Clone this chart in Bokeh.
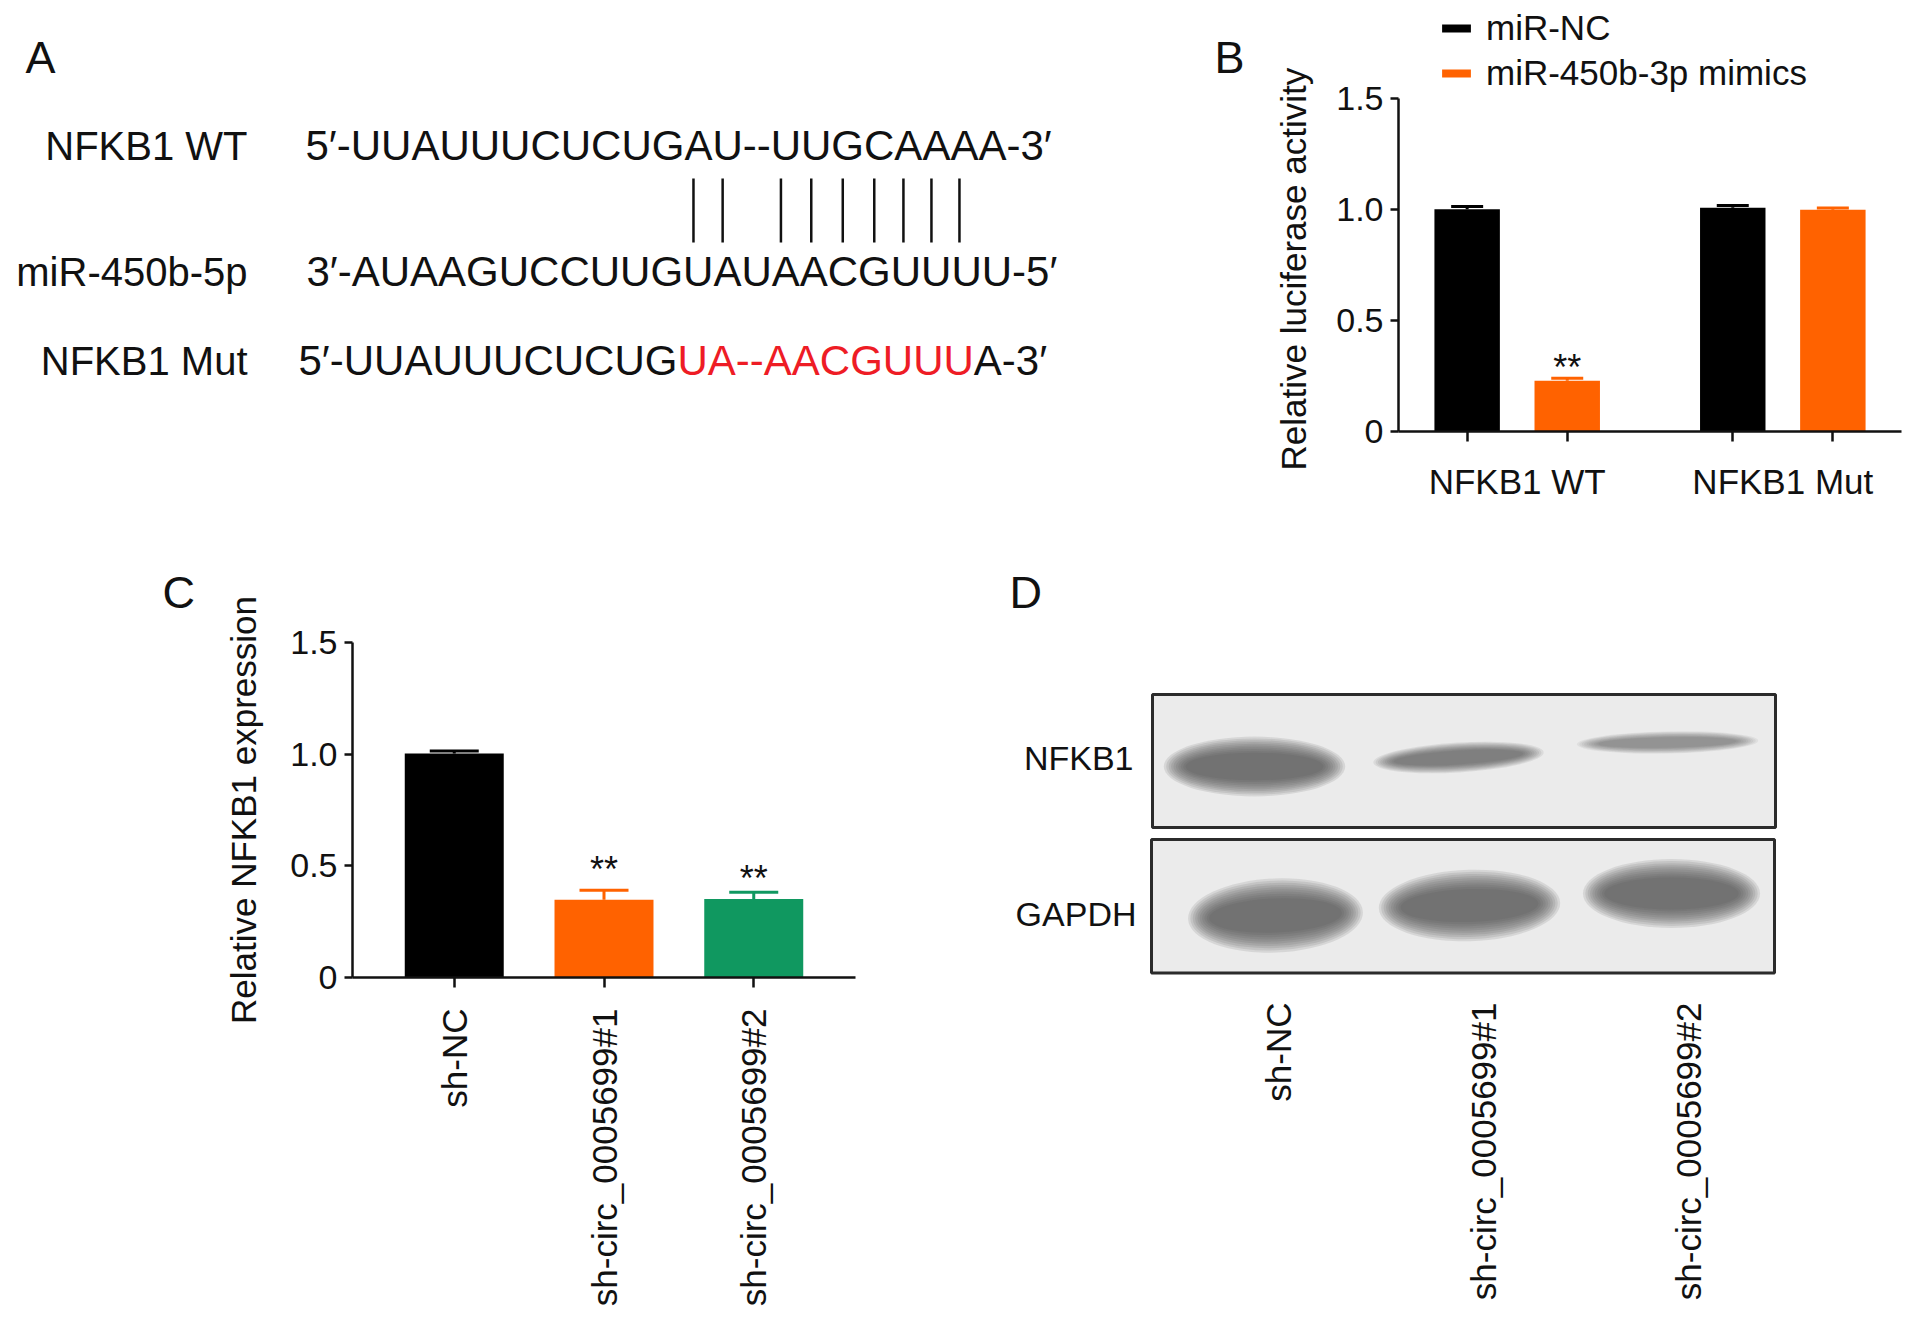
import math
from bokeh.plotting import figure
from bokeh.models import (Range1d, FactorRange, Legend, LegendItem, LinearAxis,
                          FixedTicker, ColumnDataSource)
from bokeh.layouts import column, row
from bokeh.embed import file_html
from bokeh.resources import INLINE
from bokeh.core.properties import value

FONT = "Liberation Sans"
INK = "#111111"

# ---------------- data ----------------
# Panel A : sequence alignment
a_row_labels = ["NFKB1 WT", "miR-450b-5p", "NFKB1 Mut"]
a_wt_seq = "5′-UUAUUUCUCUGAU--UUGCAAAA-3′"
a_mir_seq = "3′-AUAAGUCCUUGUAUAACGUUUU-5′"
a_mut_seq_parts = ["5′-UUAUUUCUCUG", "UA--AACGUUU", "A-3′"]
a_mut_part_colors = [INK, "#EE1C25", INK]
a_pair_index = [14, 15, 18, 19, 20, 21, 22, 23, 24]   # paired bases in a_wt_seq

# Panel B : luciferase assay
b_groups = ["NFKB1 WT", "NFKB1 Mut"]
b_series = ["miR-NC", "miR-450b-3p mimics"]
b_colors = ["#000000", "#FF6200"]
b_values = [[1.000, 1.007], [0.228, 0.998]]
b_errors = [[0.012, 0.010], [0.012, 0.008]]
b_sig_text = ["**"]
b_sig_at = [("NFKB1 WT", "miR-450b-3p mimics")]
b_sig_y = [0.318]
b_ylabel = "Relative luciferase activity"
y_ticks = [0, 0.5, 1.0, 1.5]
y_tick_labels = ["0", "0.5", "1.0", "1.5"]

# Panel C : NFKB1 expression
c_cats = ["sh-NC", "sh-circ_0005699#1", "sh-circ_0005699#2"]
c_values = [1.003, 0.348, 0.351]
c_errors = [0.011, 0.043, 0.031]
c_colors = ["#000000", "#FF6200", "#109860"]
c_sig_text = ["**", "**"]
c_sig_at = ["sh-circ_0005699#1", "sh-circ_0005699#2"]
c_sig_y = [0.514, 0.474]
c_ylabel = "Relative NFKB1 expression"

# Panel D : western blot
d_rows = ["NFKB1", "GAPDH"]
d_lanes = ["sh-NC", "sh-circ_0005699#1", "sh-circ_0005699#2"]
d_nfkb1_intensity = [1.0, 0.75, 0.55]
d_gapdh_intensity = [1.0, 1.0, 1.0]

# ---------------- helpers ----------------
ARIAL_W = {'5': 556, '3': 556, '′': 191, '-': 333, 'U': 722, 'A': 667, 'C': 722, 'G': 778}


def tw(s, fs):
    return sum(ARIAL_W[c] for c in s) * fs / 1000.0


def blank(width, height, x0, y0, top=0, bottom=0, title=None):
    # frame spans the canvas width; vertical borders match the neighbouring chart
    p = figure(width=width, height=height, title=title,
               x_range=Range1d(x0, x0 + width),
               y_range=Range1d(y0 + height - bottom, y0 + top),
               output_backend="svg", toolbar_location=None,
               min_border_left=0, min_border_right=0,
               min_border_top=top, min_border_bottom=bottom,
               x_axis_location=None, y_axis_location=None)
    p.grid.visible = False
    p.outline_line_color = None
    return p


def style_axis(ax, fs):
    ax.axis_line_width = 2.5
    ax.axis_line_color = INK
    ax.major_tick_line_width = 2.5
    ax.major_tick_line_color = INK
    ax.major_tick_in = 0
    ax.minor_tick_line_color = None
    ax.major_label_text_font = FONT
    ax.major_label_text_font_size = fs
    ax.major_label_text_color = INK
    ax.axis_label_text_font = FONT
    ax.axis_label_text_font_style = "normal"
    ax.axis_label_text_color = INK


def style_title(t, fs, align, offset, standoff):
    t.text_font = FONT
    t.text_font_size = fs
    t.text_font_style = "normal"
    t.text_color = INK
    t.align = align
    t.offset = offset
    t.standoff = standoff


ROW1_H, ROW2_H = 540, 769
A_W = 1250

# ---------------- Panel B (defines row-1 frame) ----------------
B_BOTTOM = 109
b_frame_h = ROW1_H - B_BOTTOM
b_px_per_unit = (430.7 - 97.3) / 1.5
b_factors = [(g, s) for g in b_groups for s in b_series]
figB = figure(width=1905 - A_W, height=ROW1_H, title=b_ylabel, title_location="left",
              x_range=FactorRange(*b_factors, group_padding=0.654, range_padding=0.186,
                                  range_padding_units="absolute"),
              y_range=Range1d(0, b_frame_h / b_px_per_unit),
              output_backend="svg", toolbar_location=None,
              min_border_left=1397 - A_W, min_border_right=4, min_border_top=0,
              min_border_bottom=B_BOTTOM)
figB.grid.visible = False
figB.outline_line_color = None
style_title(figB.title, "35px", "left", -39, 42)
legend_items = []
for si, s in enumerate(b_series):
    xs = [(g, s) for g in b_groups]
    tops = [v + e for v, e in zip(b_values[si], b_errors[si])]
    r = figB.vbar(x=xs, top=b_values[si], width=0.654, fill_color=b_colors[si],
                  line_color=None)
    figB.segment(x0=xs, y0=b_values[si], x1=xs, y1=tops, line_color=b_colors[si],
                 line_width=3)
    figB.dash(x=xs, y=tops, size=32, line_color=b_colors[si], line_width=3)
    legend_items.append(LegendItem(label=s, renderers=[r]))
figB.text(x=b_sig_at, y=b_sig_y, text=b_sig_text, text_font=value(FONT),
          text_font_size="36px", text_align="center", text_baseline="alphabetic",
          y_offset=7, text_color=INK)
legend = Legend(items=legend_items, location=(40, b_frame_h - 94), glyph_width=36,
                glyph_height=10, label_height=42, label_text_font=FONT,
                label_text_font_size="35px", label_text_color=INK,
                label_standoff=12, spacing=3, padding=0, margin=0,
                border_line_alpha=0, background_fill_alpha=0)
figB.add_layout(legend)
yB = figB.yaxis[0]
style_axis(yB, "34px")
yB.bounds = (0, 1.5)
yB.ticker = FixedTicker(ticks=y_ticks)
yB.major_label_overrides = dict(zip(y_ticks, y_tick_labels))
yB.major_tick_out = 8
yB.major_label_standoff = 7
xB = figB.xaxis[0]
style_axis(xB, "1px")
xB.major_label_text_alpha = 0
xB.major_tick_out = 10
xB.major_label_standoff = 20
xB.separator_line_alpha = 0
xB.group_text_font = FONT
xB.group_text_font_size = "35px"
xB.group_text_color = INK
xB.group_text_font_style = "normal"

# ---------------- Panel A ----------------
figA = blank(A_W, ROW1_H, 0, 0, top=0, bottom=B_BOTTOM)
figA.text(x=[25, 1214], y=[57, 57], text=["A", "B"], text_font=value(FONT),
          text_font_size="45px", text_baseline="alphabetic", text_align="left",
          text_color=INK)
row_base = [145, 271, 360]
figA.text(x=[247] * 3, y=row_base, text=a_row_labels, text_font=value(FONT),
          text_font_size="40px", text_baseline="alphabetic", text_align="right",
          text_color=INK)
SEQ_FS = 42
figA.text(x=[305, 306], y=row_base[:2], text=[a_wt_seq, a_mir_seq], text_font=value(FONT),
          text_font_size=f"{SEQ_FS}px", text_baseline="alphabetic", text_align="left",
          text_color=INK)
mut_x, cur = [], 298
for part in a_mut_seq_parts:
    mut_x.append(cur)
    cur += tw(part, SEQ_FS)
figA.text(x=mut_x, y=[row_base[2]] * 3, text=a_mut_seq_parts, text_font=value(FONT),
          text_font_size=f"{SEQ_FS}px", text_baseline="alphabetic", text_align="left",
          text_color=a_mut_part_colors)
pair_x = [300 + tw(a_wt_seq[:i], SEQ_FS) + tw(a_wt_seq[i], SEQ_FS) / 2 for i in a_pair_index]
figA.segment(x0=pair_x, y0=[178] * len(pair_x), x1=pair_x, y1=[242] * len(pair_x),
             line_color=INK, line_width=2.5)

# ---------------- Panel C ----------------
C_TOP, C_BOTTOM = 102, 332
figC = figure(width=930, height=ROW2_H, title="C",
              x_range=FactorRange(*c_cats, range_padding=0.1795, range_padding_units="absolute"),
              y_range=Range1d(0, 1.5), output_backend="svg", toolbar_location=None,
              min_border_left=352, min_border_right=75, min_border_top=C_TOP,
              min_border_bottom=C_BOTTOM)
figC.grid.visible = False
figC.outline_line_color = None
style_title(figC.title, "45px", "left", -190, 49)
c_src = ColumnDataSource(dict(x=c_cats, top=c_values,
                              err_top=[v + e for v, e in zip(c_values, c_errors)],
                              color=c_colors))
figC.vbar(x="x", top="top", width=0.661, fill_color="color", line_color=None, source=c_src)
figC.segment(x0="x", y0="top", x1="x", y1="err_top", line_color="color", line_width=3,
             source=c_src)
figC.dash(x="x", y="err_top", size=49, line_color="color", line_width=3, source=c_src)
figC.text(x=c_sig_at, y=c_sig_y, text=c_sig_text, text_font=value(FONT),
          text_font_size="36px", text_align="center", text_baseline="alphabetic",
          y_offset=7, text_color=INK)
yC = figC.yaxis[0]
style_axis(yC, "34px")
yC.ticker = FixedTicker(ticks=y_ticks)
yC.major_label_overrides = dict(zip(y_ticks, y_tick_labels))
yC.major_tick_out = 8
yC.major_label_standoff = 7
yC.axis_label = c_ylabel
yC.axis_label_text_font_size = "35px"
yC.axis_label_standoff = 24
xC = figC.xaxis[0]
style_axis(xC, "35px")
xC.major_tick_out = 10
xC.major_label_orientation = math.pi / 2
xC.major_label_standoff = 21

# ---------------- Panel D ----------------
figD = blank(975, ROW2_H, 930, 540, top=C_TOP, bottom=C_BOTTOM, title="D")
style_title(figD.title, "45px", "left", 79, 49)
figD.quad(left=[1152, 1151], right=[1775, 1774], top=[694, 839], bottom=[827, 972.5],
          fill_color="#ebebeb", line_color="#2b2b2b", line_width=3)
band_sets = [
    # x centres, y centres, widths, heights, angles, intensities
    ([1254, 1458, 1667], [766, 757, 742], [168, 158, 168], [46, 23, 17], [0.0, 0.06, 0.02],
     d_nfkb1_intensity),
    ([1275, 1469, 1671], [915, 905, 893], [162, 168, 164], [57, 55, 53], [0.04, 0.03, 0.0],
     d_gapdh_intensity),
]
N_LAYERS = 10
for bx, by, bw, bh, ba, inten in band_sets:
    for k in range(N_LAYERS):
        t = (N_LAYERS - 1 - k) / (N_LAYERS - 1)
        figD.ellipse(x=bx, y=by, width=[w * (0.82 + 0.26 * t) for w in bw],
                     height=[h * (0.6 + 0.7 * t) for h in bh], angle=ba,
                     fill_color="#4a4a4a", fill_alpha=[0.13 * i for i in inten],
                     line_color=None)
figD.text(x=[1133, 1136], y=[757, 913], text=d_rows, text_font=value(FONT),
          text_font_size="34px", text_baseline="middle", text_align="right", text_color=INK)
lane_label_x = [1278, 1483, 1688]
lane_axis = LinearAxis(ticker=FixedTicker(ticks=lane_label_x),
                       major_label_overrides=dict(zip(lane_label_x, d_lanes)))
style_axis(lane_axis, "35px")
lane_axis.axis_line_color = None
lane_axis.major_tick_line_color = None
lane_axis.major_tick_out = 0
lane_axis.major_label_orientation = math.pi / 2
lane_axis.major_label_standoff = 25
figD.add_layout(lane_axis, "below")

layout = column(row(figA, figB), row(figC, figD))
open("out.html", "w").write(file_html(layout, INLINE))
